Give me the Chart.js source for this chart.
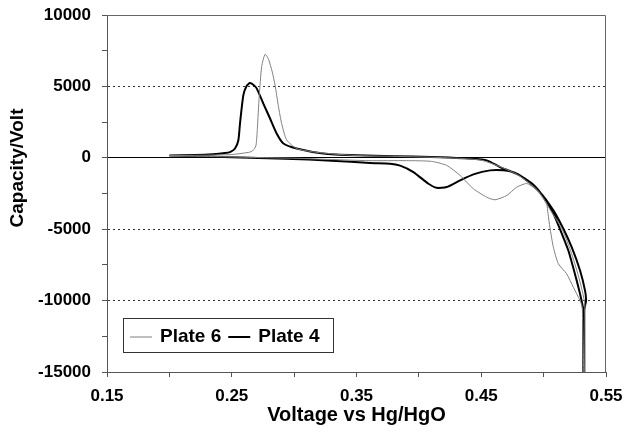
<!DOCTYPE html>
<html>
<head>
<meta charset="utf-8">
<script src="https://cdn.jsdelivr.net/npm/chart.js@4.4.0/dist/chart.umd.min.js"></script>
<style>
  html, body { margin: 0; padding: 0; background: #fff; }
</style>
</head>
<body>
<canvas id="myChart" width="626" height="433"></canvas>
<script>
// Plate 6: charge branch (left to right) then discharge branch (right to left)
const plate6Voltage = [
  0.200, 0.220, 0.240, 0.250, 0.2646, 0.268, 0.2695, 0.2705, 0.272, 0.274,
  0.2767, 0.2795, 0.2825, 0.2847, 0.2874, 0.290, 0.294, 0.302, 0.315, 0.330,
  0.350, 0.380, 0.410, 0.435, 0.450, 0.465, 0.480, 0.495, 0.505, 0.5145,
  0.521, 0.527, 0.5312, 0.533, 0.5332,
  0.531, 0.5292, 0.5238, 0.5185, 0.5118, 0.5078, 0.505, 0.5035, 0.5024, 0.4985,
  0.493, 0.4864, 0.4784, 0.4704, 0.461, 0.4544, 0.4437, 0.433, 0.4223, 0.410,
  0.390, 0.360, 0.330, 0.300, 0.270, 0.240, 0.200
];
const plate6Capacity = [
  150, 170, 200, 230, 400, 600, 900, 2000, 4300, 6400,
  7250, 6900, 6000, 5100, 3600, 2400, 1250, 650, 420, 280,
  160, 100, 40, -50, -170, -620, -1230, -2250, -3600, -4950,
  -6350, -8000, -9400, -10300, -20000,
  -10500, -10000, -9060, -8130, -7420, -6260, -4860, -3900, -3210, -2700,
  -2150, -1800, -2060, -2640, -2940, -2760, -2170, -1230, -530, -250,
  -200, -200, -120, -30, 20, 80, 140
];

// Plate 4
const plate4Voltage = [
  0.200, 0.220, 0.235, 0.2445, 0.2486, 0.2526, 0.2553, 0.2566, 0.2593, 0.262,
  0.2646, 0.2675, 0.270, 0.2753, 0.2807, 0.286, 0.2914, 0.302, 0.3233, 0.350,
  0.380, 0.410, 0.435, 0.4544, 0.465, 0.481, 0.497, 0.5078, 0.5158, 0.5225,
  0.5292, 0.5332, 0.534, 0.5325, 0.5318,
  0.5316, 0.5292, 0.5251, 0.5198, 0.513, 0.5078, 0.500, 0.492, 0.4784, 0.4677,
  0.457, 0.4437, 0.433, 0.4223, 0.4142, 0.4077, 0.3956, 0.385, 0.3769, 0.3608,
  0.330, 0.293, 0.250, 0.220, 0.200
];
const plate4Capacity = [
  160, 190, 250, 330, 400, 650, 1230, 2400, 4390, 5050,
  5230, 5100, 4860, 3800, 2750, 1700, 1000, 650, 300, 170,
  110, 60, -30, -180, -650, -1230, -2400, -3680, -4970, -6260,
  -7890, -9300, -10000, -10700, -20000,
  -10600, -9530, -8130, -6490, -4970, -3900, -2750, -1900, -1110, -880,
  -880, -1160, -1580, -2050, -2100, -1820, -1000, -550, -410, -370,
  -200, -60, 40, 110, 160
];

const xTickLabels = [0.15, 0.25, 0.35, 0.45, 0.55];
const yTickLabels = [10000, 5000, 0, -5000, -10000, -15000];
const yGridValues = [5000, -5000, -10000];

function toPoints(xs, ys) {
  return xs.map((x, i) => ({ x: x, y: ys[i] }));
}

const FONT = '"Liberation Sans", Arial, sans-serif';

const frame = {
  id: 'frame',
  beforeDatasetsDraw(chart) {
    const { ctx, chartArea: a } = chart;
    ctx.save();
    ctx.strokeStyle = '#666';
    ctx.lineWidth = 1;
    ctx.beginPath();
    ctx.moveTo(a.left, a.top + 0.5);
    ctx.lineTo(a.right - 0.5, a.top + 0.5);
    ctx.lineTo(a.right - 0.5, a.bottom);
    ctx.stroke();
    ctx.restore();
  },
  afterDraw(chart) {
    const { ctx, chartArea: a } = chart;
    ctx.save();
    // y axis title
    ctx.translate(18, 168);
    ctx.rotate(-Math.PI / 2);
    ctx.font = 'bold 19px ' + FONT;
    ctx.fillStyle = '#000';
    ctx.textAlign = 'center';
    ctx.textBaseline = 'middle';
    ctx.fillText('Capacity/Volt', 0, 0);
    ctx.restore();

    // legend box
    ctx.save();
    const x = a.left + 16, y = a.bottom - 54, w = 210, h = 34;
    ctx.fillStyle = '#fff';
    ctx.fillRect(x, y, w, h);
    ctx.strokeStyle = '#333';
    ctx.lineWidth = 1;
    ctx.strokeRect(x + 0.5, y + 0.5, w, h);
    ctx.font = 'bold 19px ' + FONT;
    ctx.textAlign = 'left';
    ctx.textBaseline = 'alphabetic';
    let cx = x + 7;
    chart.data.datasets.forEach(ds => {
      ctx.strokeStyle = ds.borderColor;
      ctx.lineWidth = ds.borderWidth;
      ctx.beginPath();
      ctx.moveTo(cx, y + 19);
      ctx.lineTo(cx + 22, y + 19);
      ctx.stroke();
      cx += 30;
      ctx.fillStyle = '#000';
      ctx.fillText(ds.label, cx, y + 24);
      cx += ctx.measureText(ds.label).width + 7;
    });
    ctx.restore();
  }
};

new Chart(document.getElementById('myChart'), {
  type: 'scatter',
  data: {
    datasets: [{
      label: 'Plate 6',
      data: toPoints(plate6Voltage, plate6Capacity),
      showLine: true,
      borderColor: '#808080',
      borderWidth: 1,
      pointRadius: 0,
      tension: 0.2
    }, {
      label: 'Plate 4',
      data: toPoints(plate4Voltage, plate4Capacity),
      showLine: true,
      borderColor: '#000000',
      borderWidth: 2,
      pointRadius: 0,
      tension: 0.2
    }]
  },
  options: {
    responsive: false,
    animation: false,
    layout: { padding: { top: 15, right: 20, left: 0, bottom: 0 } },
    plugins: {
      legend: { display: false },
      tooltip: { enabled: false }
    },
    scales: {
      x: {
        type: 'linear',
        min: 0.15,
        max: 0.55,
        afterFit: s => { s.height = 61; s.paddingLeft = 0; s.paddingRight = 0; },
        ticks: {
          stepSize: 0.05,
          autoSkip: false,
          maxRotation: 0,
          padding: 9,
          color: '#000',
          font: { family: FONT, size: 17, weight: 'bold' },
          callback: v => xTickLabels.some(t => Math.abs(t - v) < 1e-6) ? v.toFixed(2) : ''
        },
        grid: { drawOnChartArea: false, tickLength: 5, tickColor: '#555' },
        border: { color: '#555', width: 1 },
        title: {
          display: true,
          text: 'Voltage vs Hg/HgO',
          color: '#000',
          font: { family: FONT, size: 20, weight: 'bold' },
          padding: { top: 0, bottom: 6 }
        }
      },
      y: {
        min: -15000,
        max: 10000,
        afterFit: s => { s.width = 107; s.paddingTop = 0; s.paddingBottom = 0; },
        ticks: {
          stepSize: 2500,
          autoSkip: false,
          padding: 11,
          color: '#000',
          font: { family: FONT, size: 17, weight: 'bold' },
          callback: v => yTickLabels.includes(v) ? String(v) : ''
        },
        grid: {
          tickLength: 5,
          tickColor: '#555',
          color: c => {
            if (!c.tick) return 'rgba(0,0,0,0)';
            if (c.tick.value === 0) return '#000';
            return yGridValues.includes(c.tick.value) ? '#333' : 'rgba(0,0,0,0)';
          }
        },
        border: {
          color: '#555',
          width: 1,
          dash: c => (c.tick && c.tick.value !== 0) ? [2, 3] : []
        }
      }
    }
  },
  plugins: [frame]
});
</script>
</body>
</html>
